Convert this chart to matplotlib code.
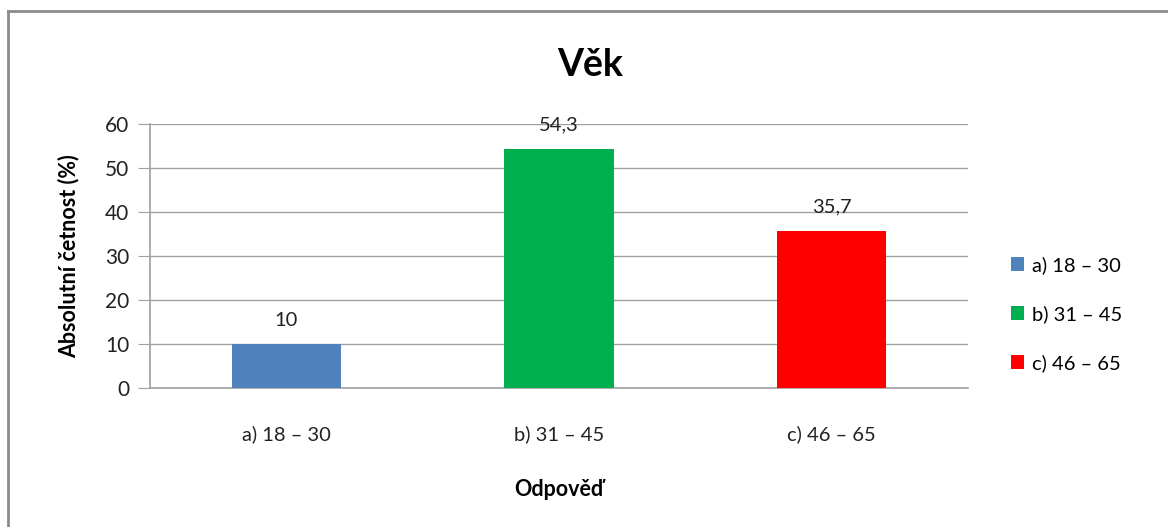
import matplotlib.pyplot as plt
from matplotlib.lines import Line2D

plt.rcParams['font.family'] = ['Lato', 'DejaVu Sans']

# data
categories = ['a) 18 – 30', 'b) 31 – 45', 'c) 46 – 65']
values = [10, 54.3, 35.7]
value_labels = ['10', '54,3', '35,7']
colors = ['#4f81bd', '#00b050', '#ff0000']

fig = plt.figure(figsize=(11.68, 5.27), dpi=100)
ax = fig.add_axes([0.1284, 0.2638, 0.7004, 0.5009])

x = range(len(categories))
bars = ax.bar(x, values, width=0.4, color=colors, label=categories, zorder=3)

for xi, v, lab in zip(x, values, value_labels):
    ax.annotate(lab, (xi, v), xytext=(0, 11), textcoords='offset points',
                ha='center', va='bottom', fontsize=14.5, color='#222222')

ax.set_xlim(-0.5, 2.5)
ax.set_ylim(0, 60)
ax.set_yticks(range(0, 61, 10))
ax.set_xticks(list(x))
ax.set_xticklabels(categories)
ax.grid(axis='y', color='#a0a0a0', linewidth=1, zorder=0)
for s in ['top', 'right']:
    ax.spines[s].set_visible(False)
for s in ['left', 'bottom']:
    ax.spines[s].set_color('#a0a0a0')
    ax.spines[s].set_linewidth(1.2)
ax.tick_params(axis='y', length=9, color='#a0a0a0', labelsize=15, labelcolor='#222222', pad=6)
ax.tick_params(axis='x', length=0, labelsize=14.5, labelcolor='#222222', pad=27)

ax.set_ylabel('Absolutní četnost (%)', fontsize=15.5, fontweight='bold', labelpad=18)
ax.set_xlabel('Odpověď', fontsize=15.5, fontweight='bold', labelpad=26)
fig.text(0.505, 0.877, 'Věk', ha='center', va='center', fontsize=27, fontweight='bold')

ax.legend(loc='center left', bbox_to_anchor=(1.03, 0.28), frameon=False,
          fontsize=14.5, handlelength=0.65, handleheight=0.65, handletextpad=0.4,
          labelspacing=1.55)

# outer border (only top and left edges visible in the image)
fig.add_artist(Line2D([8/1168, 8/1168], [0, 1 - 11/527], transform=fig.transFigure,
                      color='#8c8c8c', linewidth=2))
fig.add_artist(Line2D([8/1168, 1], [1 - 11/527, 1 - 11/527], transform=fig.transFigure,
                      color='#8c8c8c', linewidth=2))

fig.savefig('out.png', dpi=100)
